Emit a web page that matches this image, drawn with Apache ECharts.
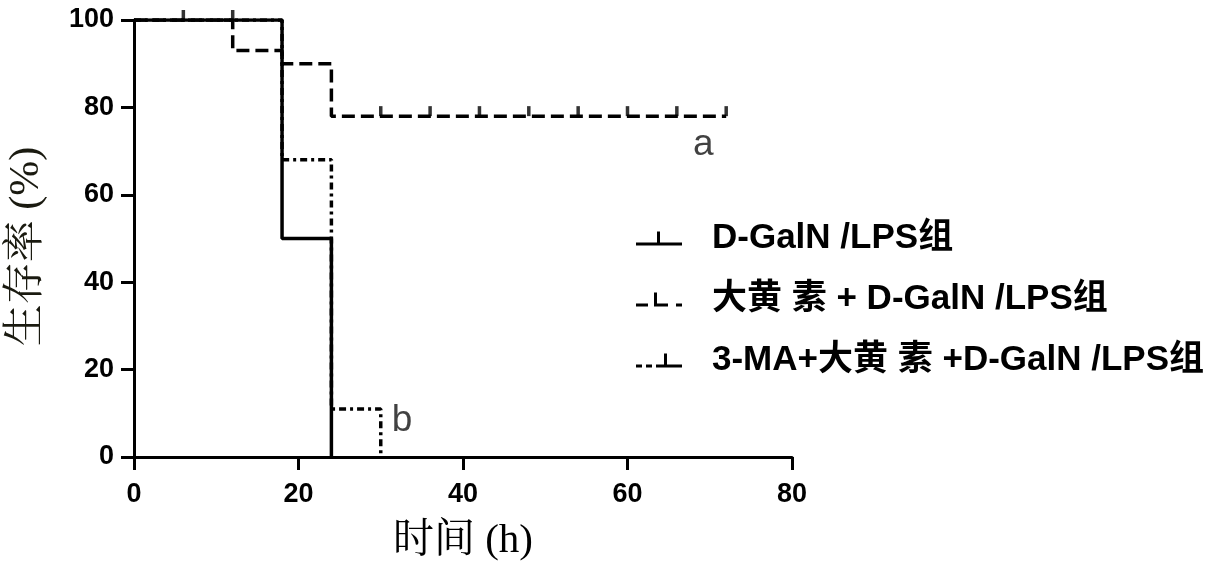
<!DOCTYPE html>
<html>
<head>
<meta charset="utf-8">
<script src="https://cdn.jsdelivr.net/npm/echarts@6/dist/echarts.min.js"></script>
<style>
html,body{margin:0;padding:0;background:#fff;}
#chart{width:1213px;height:568px;}
</style>
</head>
<body>
<div id="chart"></div>
<script>
// ---- data ----
const seriesNames = ['D-GalN /LPS组', '大黄 素 + D-GalN /LPS组', '3-MA+大黄 素 +D-GalN /LPS组'];
// Kaplan-Meier steps: [time (h), survival % after event]
const survivalModel = [[0, 100], [18, 50], [24, 0]];
const survivalEmodin = [[0, 100], [12, 93], [18, 90], [24, 78], [72, 78]];
const survival3MA = [[0, 100], [18, 68], [24, 11], [30, 0]];
// censored observations (tick marks)
const censorEmodin = [[6, 100], [12, 100], [30, 78], [36, 78], [42, 78], [48, 78], [54, 78], [60, 78], [66, 78], [72, 78]];
// significance letters
const annotations = [[69.2, 71.5, 'a'], [32.6, 8.3, 'b']];
const xTicks = [0, 20, 40, 60, 80];
const yTicks = [0, 20, 40, 60, 80, 100];

const chart = echarts.init(document.getElementById('chart'));
const latinBold = "'Liberation Sans', Arial, 'Noto Sans CJK SC', sans-serif";
const serifFont = "'Liberation Serif', 'Noto Serif CJK SC', 'Noto Sans CJK SC', serif";

const icons = [
  'path://M0,11h46v3H0z M21,0h3v11h-3z',
  'path://M0,11h12v3H0z M18,11h14v3H18z M18,0h3v11h-3z M40,11h6v3h-6z',
  'path://M0,11h6v3H0z M10,11h6v3h-6z M20,11h26v3H20z M28,0h3v11h-3z'
];

const axisCommon = {
  axisLine: { show: true, lineStyle: { color: '#000', width: 3 } },
  axisTick: { show: true, length: 13, lineStyle: { color: '#000', width: 3 } },
  splitLine: { show: false },
  axisLabel: { color: '#000', fontFamily: latinBold, fontWeight: 'bold', fontSize: 27 }
};

const option = {
  backgroundColor: '#fff',
  animation: false,
  grid: { left: 134, right: 421, top: 20, bottom: 111, containLabel: false, outerBoundsMode: 'none' },
  xAxis: Object.assign({}, axisCommon, {
    type: 'value', min: xTicks[0], max: xTicks[xTicks.length - 1], interval: 20,
    name: '时间 (h)', nameLocation: 'middle', nameGap: 64,
    nameTextStyle: { color: '#000', fontFamily: serifFont, fontSize: 41 },
    axisLabel: Object.assign({}, axisCommon.axisLabel, { margin: 24 })
  }),
  yAxis: Object.assign({}, axisCommon, {
    type: 'value', min: yTicks[0], max: yTicks[yTicks.length - 1], interval: 20,
    name: '生存率 (%)', nameLocation: 'middle', nameGap: 86, nameRotate: 90,
    nameTextStyle: { color: '#1a1a10', fontFamily: serifFont, fontSize: 42, padding: [0, 16, 0, 0] },
    axisLabel: Object.assign({}, axisCommon.axisLabel, { margin: 20 })
  }),
  legend: {
    orient: 'vertical', left: 636, top: 221, padding: 0, itemWidth: 46, itemHeight: 14, itemGap: 26,
    data: seriesNames.map((n, i) => ({ name: n, icon: icons[i] })),
    itemStyle: { color: '#000', borderWidth: 0 },
    textStyle: { color: '#000', fontFamily: latinBold, fontWeight: 'bold', fontSize: 35, padding: [0, 0, 0, 25] },
    selectedMode: false
  },
  series: [
    { name: seriesNames[0], type: 'line', step: 'end', data: survivalModel, symbol: 'none',
      lineStyle: { color: '#000', width: 3.5, type: 'solid' }, itemStyle: { color: '#000' }, z: 3 },
    { name: seriesNames[1], type: 'line', step: 'end', data: survivalEmodin, symbol: 'none',
      lineStyle: { color: '#000', width: 3.5, type: [13, 6] }, itemStyle: { color: '#000' }, z: 2 },
    { name: seriesNames[2], type: 'line', step: 'end', data: survival3MA, symbol: 'none',
      lineStyle: { color: '#000', width: 3.5, type: [7, 4, 3, 4] }, itemStyle: { color: '#000' }, z: 2 },
    { name: 'censor', type: 'scatter', data: censorEmodin, symbol: 'rect', symbolSize: [3.5, 10],
      symbolOffset: [0, -5], itemStyle: { color: '#000' }, z: 4, silent: true },
    { name: 'letters', type: 'scatter', symbolSize: 0, silent: true,
      data: annotations.map(a => ({ value: [a[0], a[1]], label: { formatter: a[2] } })),
      label: { show: true, position: 'inside', color: '#111', fontFamily: "'Liberation Sans', Arial, sans-serif", fontSize: 37 } }
  ]
};
chart.setOption(option);
</script>
</body>
</html>
